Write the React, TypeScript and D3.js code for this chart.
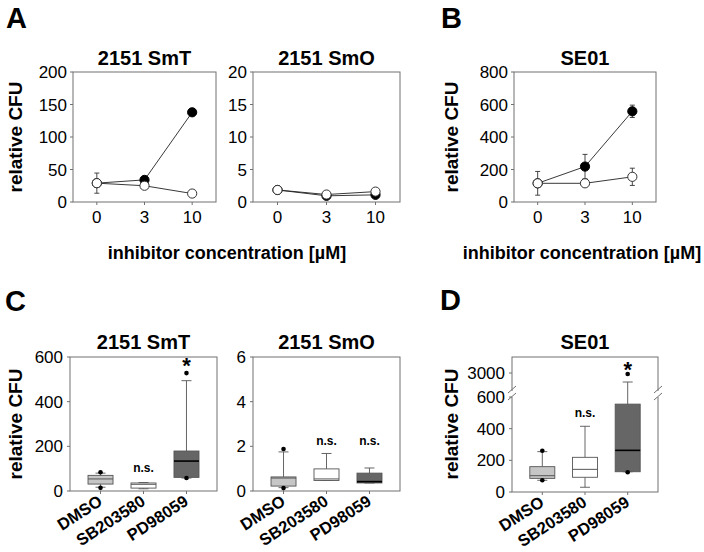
import React from "react";
import * as d3 from "d3";

// ---------- data ----------
const concentrations = ["0", "3", "10"];
const smT_open = [29, 25, 13];
const smT_openErr = [15.5, 0, 0];
const smT_filled = [29, 34, 138];
const smT_filledErr = [0, 0, 0];

const smO_open = [1.85, 1.15, 1.6];
const smO_openErr = [0, 0, 0];
const smO_filled = [1.85, 0.95, 1.1];
const smO_filledErr = [0, 0, 0];

const se01_open = [115, 115, 155];
const se01_openErr = [73, 0, 53];
const se01_filled = [115, 218, 558];
const se01_filledErr = [0, 75, 38];

const treatments = ["DMSO", "SB203580", "PD98059"];
// [whiskerLow, q1, median, q3, whiskerHigh]
const smT_box = [
  [17, 31, 54, 70, 80],
  [10, 13, 30, 36, 38],
  [58, 61, 134, 179, 494],
];
const smT_dots = [[84, 14], [], [528, 58]];
const smT_sig = ["", "n.s.", "*"];
const smT_sigY = [0, 85, 575];

const smO_box = [
  [0.15, 0.22, 0.58, 0.63, 1.75],
  [0.47, 0.47, 0.54, 0.99, 1.68],
  [0.36, 0.36, 0.42, 0.8, 1.03],
];
const smO_dots = [[1.88, 0.13], [], []];
const smO_sig = ["", "n.s.", "n.s."];
const smO_sigY = [0, 2.05, 2.05];

const se01_box = [
  [74, 86, 103, 160, 255],
  [30, 93, 143, 219, 415],
  [128, 128, 263, 555, 1875],
];
const se01_dots = [[261, 74], [], [2875, 125]];
const se01_sig = ["", "n.s.", "*"];
const se01_sigY = [0, 475, 3750];

const boxFills = ["#c6c6c6", "#ffffff", "#666666"];

const FONT = "'Liberation Sans', Arial, Helvetica, sans-serif";
const FRAME = "#707070";
const TICK_FS = 17;

// ---------- components ----------
type LineProps = {
  x0: number; x1: number; y0: number; y1: number;
  max: number; ticks: number[]; title: string;
  open: number[]; openErr: number[]; filled: number[]; filledErr: number[];
};

function LinePanel(p: LineProps) {
  const x = d3.scalePoint<string>().domain(concentrations).range([p.x0, p.x1]).padding(0.5);
  const y = d3.scaleLinear().domain([0, p.max]).range([p.y1, p.y0]);
  const line = d3.line<number>().x((_, i) => x(concentrations[i])!).y((d) => y(d));
  const r = 4.6;
  const errBars = (vals: number[], errs: number[], key: string) =>
    vals.map((v, i) =>
      errs[i] > 0 ? (
        <g key={key + i} stroke="#333" strokeWidth={0.9}>
          <line x1={x(concentrations[i])} x2={x(concentrations[i])} y1={y(v - errs[i])} y2={y(v + errs[i])} />
          <line x1={x(concentrations[i])! - 2.5} x2={x(concentrations[i])! + 2.5} y1={y(v - errs[i])} y2={y(v - errs[i])} />
          <line x1={x(concentrations[i])! - 2.5} x2={x(concentrations[i])! + 2.5} y1={y(v + errs[i])} y2={y(v + errs[i])} />
        </g>
      ) : null
    );
  return (
    <g>
      <text x={(p.x0 + p.x1) / 2} y={p.y0 - 7} textAnchor="middle" fontWeight="bold" fontSize={20} fontFamily={FONT}>{p.title}</text>
      <rect x={p.x0} y={p.y0} width={p.x1 - p.x0} height={p.y1 - p.y0} fill="none" stroke={FRAME} strokeWidth={1} />
      {p.ticks.map((t) => (
        <g key={t}>
          <line x1={p.x0 - 3} x2={p.x0} y1={y(t)} y2={y(t)} stroke={FRAME} />
          <text x={p.x0 - 6} y={y(t) + 6} textAnchor="end" fontSize={TICK_FS} fontFamily={FONT}>{t}</text>
        </g>
      ))}
      {concentrations.map((c) => (
        <g key={c}>
          <line x1={x(c)} x2={x(c)} y1={p.y1} y2={p.y1 + 3} stroke={FRAME} />
          <text x={x(c)} y={p.y1 + 21} textAnchor="middle" fontSize={TICK_FS} fontFamily={FONT}>{c}</text>
        </g>
      ))}
      {errBars(p.filled, p.filledErr, "fe")}
      {errBars(p.open, p.openErr, "oe")}
      <path d={line(p.filled)!} fill="none" stroke="#222" strokeWidth={0.9} />
      <path d={line(p.open)!} fill="none" stroke="#222" strokeWidth={0.9} />
      {p.filled.map((v, i) => (
        <circle key={"f" + i} cx={x(concentrations[i])} cy={y(v)} r={r} fill="#000" stroke="#000" />
      ))}
      {p.open.map((v, i) => (
        <circle key={"o" + i} cx={x(concentrations[i])} cy={y(v)} r={r} fill="#fff" stroke="#333" strokeWidth={1} />
      ))}
    </g>
  );
}

type BoxProps = {
  x0: number; x1: number; y0: number; y1: number;
  y: (v: number) => number;
  ticks: number[]; title: string;
  box: number[][]; dots: number[][]; sig: string[]; sigY: number[];
  boxW: number;
  broken?: boolean;
};

function BoxPanel(p: BoxProps) {
  const x = d3.scalePoint<string>().domain(treatments).range([p.x0, p.x1]).padding(0.71);
  const y = p.y;
  const hw = p.boxW / 2;
  const brk = p.broken ? y(750) : 0;
  return (
    <g>
      <text x={(p.x0 + p.x1) / 2} y={p.y0 - 8} textAnchor="middle" fontWeight="bold" fontSize={20} fontFamily={FONT}>{p.title}</text>
      <rect x={p.x0} y={p.y0} width={p.x1 - p.x0} height={p.y1 - p.y0} fill="none" stroke={FRAME} strokeWidth={1} />
      {p.broken && (
        <g>
          {[p.x0, p.x1].map((ax) => (
            <g key={ax}>
              <rect x={ax - 3} y={brk - 3} width={6} height={6} fill="#fff" />
              <line x1={ax - 4} x2={ax + 4} y1={brk - 1} y2={brk - 8} stroke={FRAME} />
              <line x1={ax - 4} x2={ax + 4} y1={brk + 6} y2={brk - 1} stroke={FRAME} />
            </g>
          ))}
        </g>
      )}
      {p.ticks.map((t) => (
        <g key={t}>
          <line x1={p.x0 - 3} x2={p.x0} y1={y(t)} y2={y(t)} stroke={FRAME} />
          <text x={p.x0 - 7} y={y(t) + 6} textAnchor="end" fontSize={TICK_FS} fontFamily={FONT}>{t}</text>
        </g>
      ))}
      {treatments.map((c, i) => {
        const cx = x(c)!;
        const [wl, q1, md, q3, wh] = p.box[i];
        const dark = i === 2;
        return (
          <g key={c}>
            <line x1={cx} x2={cx} y1={p.y1} y2={p.y1 + 3} stroke={FRAME} />
            <line x1={cx} x2={cx} y1={y(wh)} y2={y(q3)} stroke="#555" strokeWidth={0.9} />
            <line x1={cx} x2={cx} y1={y(q1)} y2={y(wl)} stroke="#555" strokeWidth={0.9} />
            <line x1={cx - 5} x2={cx + 5} y1={y(wh)} y2={y(wh)} stroke="#555" strokeWidth={0.9} />
            <line x1={cx - 5} x2={cx + 5} y1={y(wl)} y2={y(wl)} stroke="#555" strokeWidth={0.9} />
            <rect x={cx - hw} y={y(q3)} width={p.boxW} height={Math.max(1, y(q1) - y(q3))} fill={boxFills[i]} stroke="#555" strokeWidth={0.9} />
            <line x1={cx - hw} x2={cx + hw} y1={y(md)} y2={y(md)} stroke={dark ? "#000" : "#555"} strokeWidth={dark ? 1.6 : 1} />
            {p.dots[i].map((d, k) => (
              <circle key={k} cx={cx} cy={y(d)} r={2.3} fill="#000" />
            ))}
            {p.sig[i] && (
              <text x={cx} y={y(p.sigY[i]) + (p.sig[i] === "*" ? 10 : 0)} textAnchor="middle" fontWeight="bold"
                fontSize={p.sig[i] === "*" ? 22 : 12} fontFamily={FONT}>{p.sig[i]}</text>
            )}
            <text transform={`translate(${cx + 3},${p.y1 + 13}) rotate(-33)`} textAnchor="end" fontWeight="bold" fontSize={16.5} fontFamily={FONT}>{c}</text>
          </g>
        );
      })}
    </g>
  );
}

function YLabel({ x, y }: { x: number; y: number }) {
  return (
    <text transform={`translate(${x},${y}) rotate(-90)`} textAnchor="middle" fontWeight="bold" fontSize={19} fontFamily={FONT}>relative CFU</text>
  );
}

function Letter({ x, y, t }: { x: number; y: number; t: string }) {
  return <text x={x} y={y} fontWeight="bold" fontSize={29} fontFamily={FONT}>{t}</text>;
}

export default function App() {
  const yC1 = d3.scaleLinear().domain([0, 600]).range([491, 357]);
  const yC2 = d3.scaleLinear().domain([0, 6]).range([491, 357]);
  const yD = d3.scaleLinear().domain([0, 600, 1000, 5000]).range([492, 397, 389, 357]);
  return (
    <svg width={704} height={552} style={{ position: "absolute", left: 0, top: 0, background: "#fff" }}>
      <rect width={704} height={552} fill="#fff" />
      <Letter x={6} y={28} t="A" />
      <Letter x={441} y={28} t="B" />
      <Letter x={5} y={311} t="C" />
      <Letter x={440} y={310} t="D" />

      <LinePanel x0={73} x1={216} y0={72} y1={202} max={200} ticks={[0, 50, 100, 150, 200]} title="2151 SmT"
        open={smT_open} openErr={smT_openErr} filled={smT_filled} filledErr={smT_filledErr} />
      <LinePanel x0={253} x1={400} y0={72} y1={202} max={20} ticks={[0, 5, 10, 15, 20]} title="2151 SmO"
        open={smO_open} openErr={smO_openErr} filled={smO_filled} filledErr={smO_filledErr} />
      <LinePanel x0={514} x1={656} y0={72} y1={202} max={800} ticks={[0, 200, 400, 600, 800]} title="SE01"
        open={se01_open} openErr={se01_openErr} filled={se01_filled} filledErr={se01_filledErr} />
      <YLabel x={22} y={137} />
      <YLabel x={458} y={137} />
      <text x={227} y={259} textAnchor="middle" fontWeight="bold" fontSize={18} fontFamily={FONT}>inhibitor concentration [µM]</text>
      <text x={582} y={259} textAnchor="middle" fontWeight="bold" fontSize={18} fontFamily={FONT}>inhibitor concentration [µM]</text>

      <BoxPanel x0={70} x1={217} y0={357} y1={491} y={yC1} ticks={[0, 200, 400, 600]} title="2151 SmT"
        box={smT_box} dots={smT_dots} sig={smT_sig} sigY={smT_sigY} boxW={25} />
      <BoxPanel x0={253} x1={400} y0={357} y1={491} y={yC2} ticks={[0, 2, 4, 6]} title="2151 SmO"
        box={smO_box} dots={smO_dots} sig={smO_sig} sigY={smO_sigY} boxW={25} />
      <BoxPanel x0={512} x1={658} y0={357} y1={492} y={yD} ticks={[0, 200, 400, 600, 3000]} title="SE01"
        box={se01_box} dots={se01_dots} sig={se01_sig} sigY={se01_sigY} boxW={25} broken />
      <YLabel x={22} y={424} />
      <YLabel x={458} y={424} />
    </svg>
  );
}
